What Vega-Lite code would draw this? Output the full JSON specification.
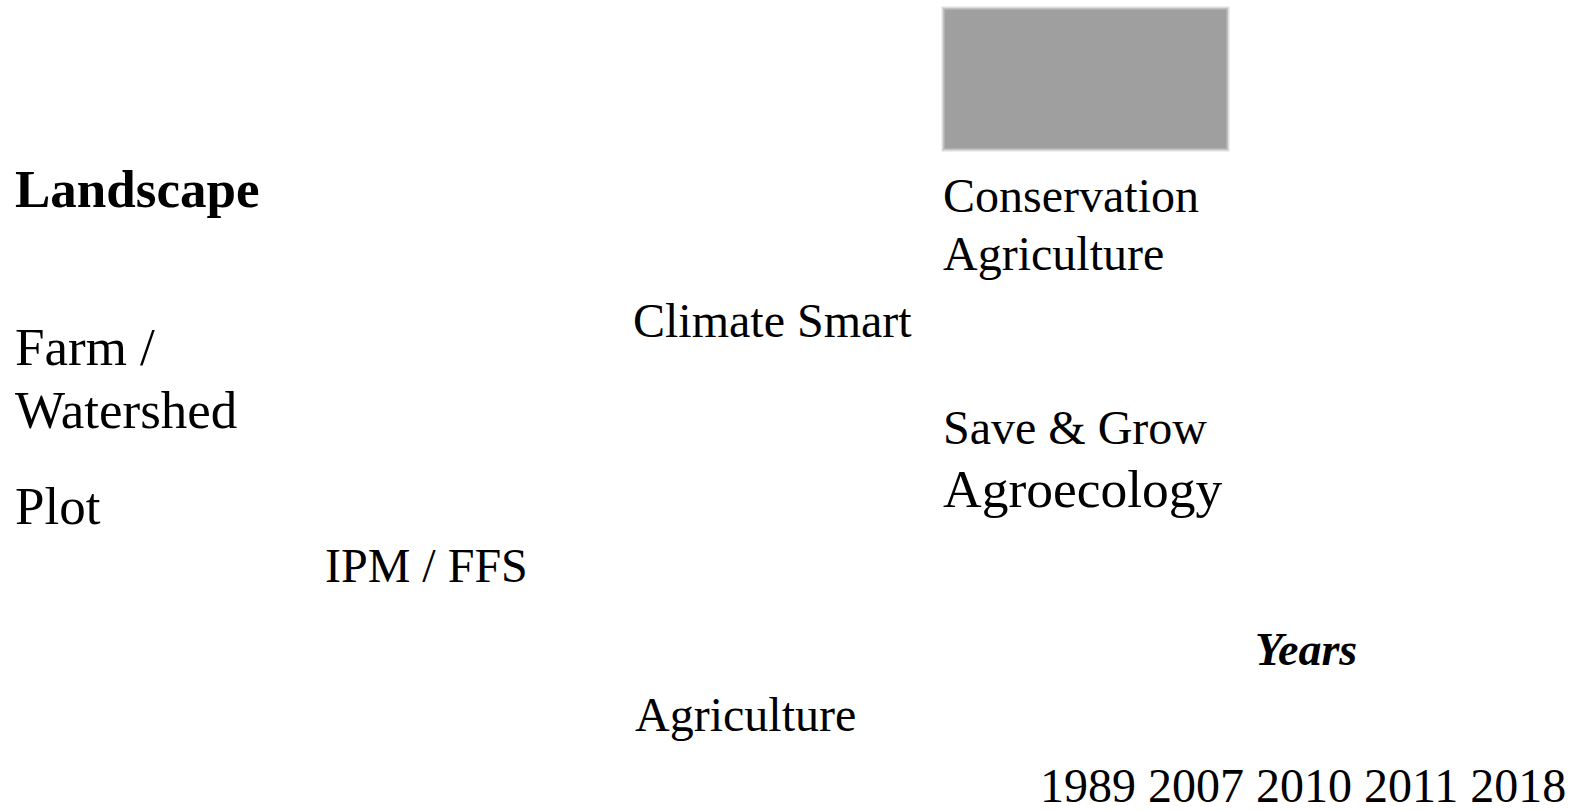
{
  "$schema": "https://vega.github.io/schema/vega-lite/v6.json",
  "autosize": {"type": "none"},
  "width": 1570,
  "height": 811,
  "padding": 0,
  "background": "white",
  "config": {"view": {"stroke": null}},
  "datasets": {
    "labels": [
      {"label": "Landscape", "x": 15, "y": 207, "kind": "levelBold"},
      {"label": "Farm /", "x": 15, "y": 365, "kind": "level"},
      {"label": "Watershed", "x": 15, "y": 428, "kind": "level"},
      {"label": "Plot", "x": 15, "y": 524, "kind": "level"},
      {"label": "IPM / FFS", "x": 325, "y": 582, "kind": "approach"},
      {"label": "Climate Smart", "x": 633, "y": 337, "kind": "approach"},
      {"label": "Agriculture", "x": 635, "y": 731, "kind": "approach"},
      {"label": "Conservation", "x": 943, "y": 212, "kind": "approach"},
      {"label": "Agriculture", "x": 943, "y": 270, "kind": "approach"},
      {"label": "Save & Grow", "x": 943, "y": 444, "kind": "approach"},
      {"label": "Agroecology", "x": 943, "y": 507, "kind": "approachLarge"},
      {"label": "Years", "x": 1255, "y": 665, "kind": "axisTitle"},
      {"label": "1989 2007 2010 2011 2018", "x": 1040, "y": 802, "kind": "approach"}
    ],
    "box": [{"x": 943, "x2": 1228, "y": 8, "y2": 150}]
  },
  "encoding": {
    "x": {"field": "x", "type": "quantitative", "scale": {"domain": [0, 1570], "nice": false, "zero": false}, "axis": null},
    "y": {"field": "y", "type": "quantitative", "scale": {"domain": [0, 811], "nice": false, "zero": false, "reverse": true}, "axis": null}
  },
  "layer": [
    {
      "data": {"name": "box"},
      "mark": {"type": "rect", "fill": "#9f9f9f", "stroke": "#cfcfcf", "strokeWidth": 3, "strokeOpacity": 0.7},
      "encoding": {"x2": {"field": "x2"}, "y2": {"field": "y2"}}
    },
    {
      "data": {"name": "labels"},
      "transform": [{"filter": "datum.kind === 'levelBold'"}],
      "mark": {"type": "text", "font": "Liberation Serif", "align": "left", "baseline": "alphabetic", "color": "black", "fontSize": 53, "fontWeight": "bold"},
      "encoding": {"text": {"field": "label"}}
    },
    {
      "data": {"name": "labels"},
      "transform": [{"filter": "datum.kind === 'level'"}],
      "mark": {"type": "text", "font": "Liberation Serif", "align": "left", "baseline": "alphabetic", "color": "black", "fontSize": 53},
      "encoding": {"text": {"field": "label"}}
    },
    {
      "data": {"name": "labels"},
      "transform": [{"filter": "datum.kind === 'approach'"}],
      "mark": {"type": "text", "font": "Liberation Serif", "align": "left", "baseline": "alphabetic", "color": "black", "fontSize": 48},
      "encoding": {"text": {"field": "label"}}
    },
    {
      "data": {"name": "labels"},
      "transform": [{"filter": "datum.kind === 'approachLarge'"}],
      "mark": {"type": "text", "font": "Liberation Serif", "align": "left", "baseline": "alphabetic", "color": "black", "fontSize": 53.5},
      "encoding": {"text": {"field": "label"}}
    },
    {
      "data": {"name": "labels"},
      "transform": [{"filter": "datum.kind === 'axisTitle'"}],
      "mark": {"type": "text", "font": "Liberation Serif", "align": "left", "baseline": "alphabetic", "color": "black", "fontSize": 46, "fontWeight": "bold", "fontStyle": "italic"},
      "encoding": {"text": {"field": "label"}}
    }
  ]
}
